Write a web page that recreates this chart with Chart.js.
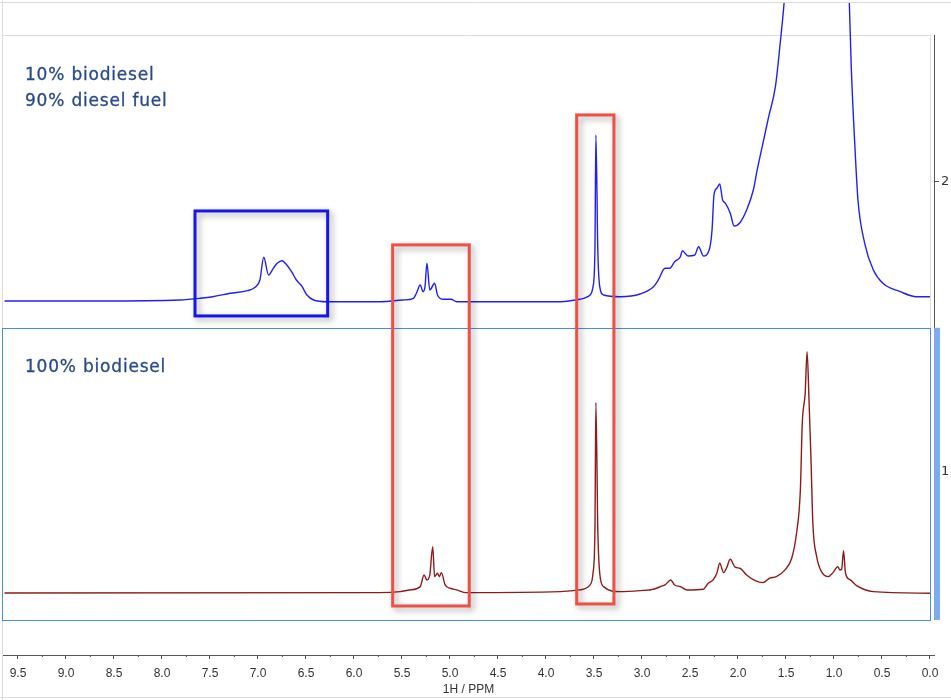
<!DOCTYPE html>
<html>
<head>
<meta charset="utf-8">
<script src="https://cdn.jsdelivr.net/npm/chart.js@4.4.1/dist/chart.umd.min.js"></script>
<style>
  html, body { margin: 0; padding: 0; background: #fff; }
  #wrap { position: relative; width: 951px; height: 700px; }
</style>
</head>
<body>
<div id="wrap"><canvas id="nmrChart" width="951" height="700"></canvas></div>
<script>
// x axis (ppm) ticks
const ppmTicks = [9.5, 9.0, 8.5, 8.0, 7.5, 7.0, 6.5, 6.0, 5.5, 5.0, 4.5, 4.0, 3.5, 3.0, 2.5, 2.0, 1.5, 1.0, 0.5, 0.0];
const ppmMinorTicks = [9.25, 8.75, 8.25, 7.75, 7.25, 6.75, 6.25, 5.75, 5.25, 4.75, 4.25, 3.75, 3.25, 2.75, 2.25, 1.75, 1.25, 0.75, 0.25];
const stackTicks = [1, 2];

// 10% biodiesel / 90% diesel fuel spectrum (intensity in a.u. above its baseline)
const blendPpm = [9.64, 8.65, 7.81, 7.60, 7.47, 7.29, 7.11, 7.03, 6.98, 6.94, 6.89, 6.84, 6.80, 6.75, 6.70, 6.65, 6.60, 6.54, 6.49, 6.42, 6.28,
  5.73, 5.49, 5.38, 5.35, 5.31, 5.28, 5.26, 5.24, 5.21, 5.16, 5.13, 5.07, 4.99, 4.93,
  3.85, 3.65, 3.54, 3.51, 3.49, 3.48, 3.46, 3.44, 3.40, 3.23,
  3.02, 2.88, 2.83, 2.76, 2.71, 2.66, 2.60, 2.58, 2.52, 2.45, 2.41, 2.36, 2.30, 2.27, 2.25, 2.22, 2.19, 2.16, 2.13, 2.08, 2.04,
  1.98, 1.91, 1.84, 1.80, 1.74, 1.68, 1.61, 1.56, 1.52, 1.46, 1.35, 1.23, 1.15, 0.99, 0.89, 0.84, 0.82, 0.78, 0.75, 0.68, 0.59, 0.49, 0.31, 0.14, 0.00];
const blendInt = [-1, -1, 0, 1.7, 3.3, 6.7, 9.3, 12.7, 20, 42.7, 25, 31.7, 36.7, 39.3, 35, 28.3, 20, 13.3, 5, 0, -1.7,
  -1.7, 0, 1.7, 6.7, 15, 8.3, 13.3, 36.7, 10, 16.7, 5, 0.7, 0.7, -1.7,
  -1.7, 0.7, 5, 13.3, 50, 165, 50, 13.3, 5, 3.3,
  6, 13.3, 20, 31.7, 31.7, 38.3, 43.3, 49.3, 44, 45, 53.3, 44, 50, 70, 105, 111.7, 116, 100, 96.7, 86.7, 74,
  77.3, 90, 110, 130, 156.7, 183.3, 213.3, 256.7, 296.7, 380, 600, 900, 800, 550, 380, 296.7, 233.3, 150, 100, 56.7, 30, 16.7, 8.3, 3.3, 3.3];

// 100% biodiesel spectrum
const purePpm = [9.64, 5.73, 5.52, 5.42, 5.31, 5.27, 5.24, 5.21, 5.18, 5.16, 5.13, 5.11, 5.09, 5.05, 5.00, 4.93, 4.83,
  3.85, 3.65, 3.54, 3.51, 3.49, 3.48, 3.46, 3.44, 3.40, 3.23,
  3.02, 2.88, 2.79, 2.76, 2.70, 2.66, 2.60, 2.53, 2.36, 2.31, 2.26, 2.22, 2.19, 2.15, 2.12, 2.08, 2.03,
  1.98, 1.91, 1.82, 1.74, 1.67, 1.60, 1.51, 1.44, 1.39, 1.35, 1.33, 1.30, 1.28, 1.26, 1.24, 1.22, 1.18, 1.13, 1.06,
  1.01, 0.96, 0.94, 0.92, 0.90, 0.88, 0.83, 0.76, 0.59, 0.00];
const pureInt = [0, 0.3, 1.3, 3, 6.3, 18, 13, 18, 46.3, 16.3, 19.7, 16.3, 20.3, 8, 4.7, 3, 0.3,
  1.3, 3, 8, 19.7, 63, 190.3, 63, 19.7, 6.3, 1.3,
  2.3, 3.7, 7, 8, 13, 8, 6.3, 3, 3.7, 9.7, 13, 19.7, 29.7, 20.3, 24.7, 33.7, 25.7,
  24.7, 18, 12.3, 10.3, 14.7, 16.3, 23, 34.7, 59.7, 103, 169.7, 199.7, 241.3, 193, 136.3, 69.7, 36.3, 21.3, 16.3,
  20.3, 26.3, 23, 23.7, 42.3, 19.7, 13, 7, 1.3, -0.3];

// stacking: spectrum baselines on the right axis, a.u. per axis unit
const blendOffset = 1.593;
const pureOffset = 0.583;
const intPerUnit = 290;

const blendText = ['10% biodiesel', '90% diesel fuel'];
const pureText = ['100% biodiesel'];

// highlight boxes in ppm / axis units
const boxes = [
  { x0: 7.656, x1: 6.274, y0: 1.900, y1: 1.538, color: '#1515ee' },
  { x0: 5.597, x1: 4.799, y0: 1.783, y1: 0.538, color: '#ec5046' },
  { x0: 3.680, x1: 3.292, y0: 2.231, y1: 0.545, color: '#ec5046' }
];

const toPoints = (ppm, vals, offset) => ppm.map((p, i) => ({ x: p, y: offset + vals[i] / intPerUnit }));

const decor = {
  id: 'decor',
  beforeDraw(chart) {
    const { ctx, scales: { y } } = chart;
    ctx.save();
    ctx.fillStyle = '#fff';
    ctx.fillRect(0, 0, chart.width, chart.height);
    ctx.strokeStyle = '#dcdcdc';
    ctx.lineWidth = 1;
    ctx.beginPath();
    ctx.moveTo(0, 2.5); ctx.lineTo(chart.width, 2.5);
    ctx.moveTo(2.5, 0); ctx.lineTo(2.5, chart.height);
    ctx.moveTo(0, 697.5); ctx.lineTo(chart.width, 697.5);
    // upper panel frame
    const panelTop = Math.round(y.getPixelForValue(2.507)) + 0.5;
    const selTop = Math.round(y.getPixelForValue(1.497)) + 0.5;
    ctx.moveTo(2.5, panelTop); ctx.lineTo(930.5, panelTop);
    ctx.moveTo(930.5, panelTop); ctx.lineTo(930.5, selTop);
    ctx.stroke();
    // selected spectrum frame
    const selBot = Math.round(y.getPixelForValue(0.490)) + 0.5;
    ctx.strokeStyle = '#4a8ae8';
    ctx.strokeRect(2.5, selTop, 928, selBot - selTop);
    ctx.restore();
  },
  afterDatasetsDraw(chart) {
    const { ctx, scales: { x, y } } = chart;
    ctx.save();
    ctx.lineWidth = 3;
    boxes.forEach(b => {
      const l = x.getPixelForValue(b.x0), r = x.getPixelForValue(b.x1);
      const t = y.getPixelForValue(b.y0), btm = y.getPixelForValue(b.y1);
      ctx.shadowColor = 'rgba(0,0,0,0.35)';
      ctx.shadowBlur = 6;
      ctx.shadowOffsetX = 3;
      ctx.shadowOffsetY = 3;
      ctx.strokeStyle = b.color;
      ctx.strokeRect(l, t, r - l, btm - t);
    });
    ctx.shadowColor = 'transparent';
    ctx.fillStyle = '#284a8a';
    ctx.strokeStyle = '#284a8a';
    ctx.lineWidth = 0.3;
    ctx.font = '17px "DejaVu Sans"';
    ctx.letterSpacing = '0.8px';
    ctx.textBaseline = 'middle';
    const put = (s, yy) => { ctx.fillText(s, 25, yy); ctx.strokeText(s, 25, yy); };
    blendText.forEach((s, i) => put(s, 76 + i * 26));
    pureText.forEach((s, i) => put(s, 368 + i * 26));
    ctx.restore();
  },
  afterDraw(chart) {
    const { ctx, chartArea: a, scales: { x, y } } = chart;
    ctx.save();
    ctx.strokeStyle = '#555';
    ctx.lineWidth = 1;
    ctx.beginPath();
    ctx.moveTo(a.right + 0.5, y.getPixelForValue(2.507));
    ctx.lineTo(a.right + 0.5, y.getPixelForValue(0.490));
    ppmMinorTicks.forEach(v => {
      const px = Math.round(x.getPixelForValue(v)) + 0.5;
      ctx.moveTo(px, a.bottom);
      ctx.lineTo(px, a.bottom + 2);
    });
    ctx.stroke();
    // selected spectrum marker
    const top = y.getPixelForValue(1.497), bot = y.getPixelForValue(0.490);
    ctx.fillStyle = '#7eaaf0';
    ctx.fillRect(a.right, top, 6, bot - top);
    ctx.restore();
  }
};

const ctx = document.getElementById('nmrChart').getContext('2d');
new Chart(ctx, {
  type: 'scatter',
  data: {
    datasets: [{
      label: '10% biodiesel, 90% diesel fuel',
      data: toPoints(blendPpm, blendInt, blendOffset),
      showLine: true,
      borderColor: '#2020f5',
      borderWidth: 1.4,
      pointRadius: 0,
      cubicInterpolationMode: 'monotone'
    }, {
      label: '100% biodiesel',
      data: toPoints(purePpm, pureInt, pureOffset),
      showLine: true,
      borderColor: '#8e1b1b',
      borderWidth: 1.4,
      pointRadius: 0,
      cubicInterpolationMode: 'monotone'
    }]
  },
  options: {
    responsive: false,
    animation: false,
    layout: { padding: { left: 3, top: 3, right: 0, bottom: 0 } },
    plugins: { legend: { display: false }, tooltip: { enabled: false } },
    scales: {
      x: {
        type: 'linear',
        reverse: true,
        min: -0.042,
        max: 9.656,
        afterBuildTicks: s => { s.ticks = ppmTicks.map(v => ({ value: v })); },
        afterFit: s => { s.height = 45; s.paddingLeft = 0; s.paddingRight = 0; },
        ticks: {
          callback: v => Number(v).toFixed(1),
          font: { family: 'Liberation Sans', size: 12 },
          color: '#333',
          padding: 7,
          maxRotation: 0,
          autoSkip: false
        },
        grid: { drawOnChartArea: false, tickLength: 4, color: '#555' },
        border: { display: true, color: '#555' },
        title: {
          display: true,
          text: '1H / PPM',
          font: { family: 'Liberation Sans', size: 12 },
          color: '#333',
          padding: { top: 0, bottom: 3 }
        }
      },
      y: {
        position: 'right',
        min: 0.369,
        max: 2.617,
        afterBuildTicks: s => { s.ticks = stackTicks.map(v => ({ value: v })); },
        afterFit: s => { s.width = 17; s.paddingTop = 0; s.paddingBottom = 0; },
        ticks: {
          callback: v => String(v),
          font: { family: 'DejaVu Sans', size: 13 },
          color: '#333',
          padding: 2
        },
        grid: { drawOnChartArea: false, tickLength: 5, color: '#555' },
        border: { display: false }
      }
    }
  },
  plugins: [decor]
});
</script>
</body>
</html>
